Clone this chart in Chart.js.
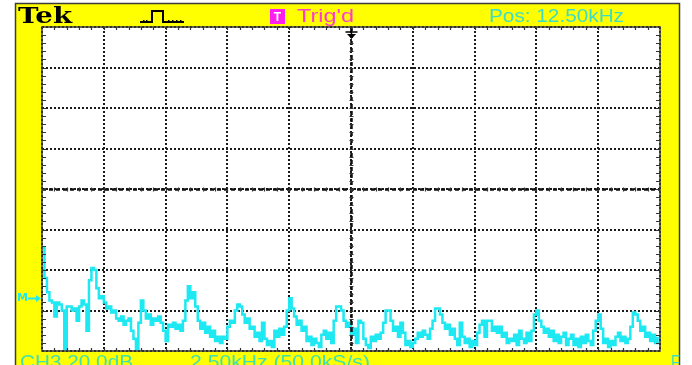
<!DOCTYPE html>
<html>
<head>
<meta charset="utf-8">
<script src="https://cdn.jsdelivr.net/npm/chart.js@4.4.1/dist/chart.umd.min.js"></script>
<style>
  html, body { margin: 0; padding: 0; background: #fff; }
  canvas { display: block; }
</style>
</head>
<body>
<canvas id="scope" width="692" height="365"></canvas>
<script>
// FFT span and graticule
const spanStartKHz = 0;
const spanEndKHz = 25;
const kHzPerDiv = 2.5;
const dbPerDiv = 20;
const verticalDivs = 8;
const binStepKHz = 0.1;

// Magnitude of each FFT bin, dB above the bottom graticule line
const magnitudeDb = [
  51, 36, 29, 25, 24, 17, 24, 23, 20, 1,
  22, 22, 20, 21, 15, 22, 25, 23, 10, 35,
  41, 40, 31, 26, 27, 24, 21, 22, 19, 20,
  16, 15, 17, 13, 15, 16, 10, 6, 1, 14,
  25, 20, 16, 18, 13, 16, 15, 17, 14, 10,
  5, 13, 12, 14, 11, 13, 10, 15, 25, 32,
  26, 29, 22, 15, 11, 14, 9, 12, 7, 10,
  5, 7, 4, 7, 6, 12, 15, 14, 20, 23,
  22, 18, 14, 16, 11, 12, 7, 9, 5, 14,
  6, 3, 5, 2, 10, 7, 11, 8, 12, 20,
  26, 21, 17, 13, 15, 10, 12, 5, 7, 3,
  6, 4, 2, 8, 10, 6, 9, 4, 15, 22,
  22, 20, 15, 12, 14, 8, 11, 4, 15, 14,
  6, 3, 1.5, 7, 5, 8, 6, 9, 14, 20,
  20, 15, 10, 12, 7, 14, 9, 3, 5, 2,
  4, 6, 9, 7, 10, 8, 6, 11, 15, 21,
  21, 18, 14, 11, 13, 8, 11, 6, 3, 14,
  7, 4, 6, 2, 5, 3, 9, 13, 15, 7,
  15, 15, 10, 12, 9, 12, 7, 9, 4, 6,
  5, 8, 3, 10, 6, 4, 9, 5, 10, 18,
  20, 15, 12, 9, 11, 7, 10, 5, 8, 4,
  7, 9, 3, 6, 8, 3, 6, 2, 7, 4,
  8, 5, 3, 10, 15, 18, 11, 4, 6, 2,
  5, 3, 7, 9, 5, 7, 4, 6, 12, 19,
  18, 15, 10, 12, 7, 9, 5, 8, 4, 7
];

// Reference level marker on the left edge
const markerLevelDb = 26;

// Readout texts
const brandText = ['Tek'];
const statusTexts = ["Trig'd", 'Pos: 12.50kHz'];
const bottomTexts = ['CH3 20.0dB', '2.50kHz (50.0kS/s)', 'F'];

const binFreqs = magnitudeDb.map((_, i) => +(spanStartKHz + i * binStepKHz).toFixed(2));
const points = magnitudeDb.map((v, i) => ({ x: binFreqs[i], y: v }));

const YELLOW = '#ffff00';
const TRACE = '#1ee8f2';

// Draw text squeezed or stretched horizontally to a given width
function fitText(ctx, text, x, baseline, width, font, color) {
  ctx.save();
  ctx.font = font;
  ctx.fillStyle = color;
  ctx.textBaseline = 'alphabetic';
  ctx.textAlign = 'left';
  const w = ctx.measureText(text).width;
  ctx.translate(x, baseline);
  ctx.scale(width / w, 1);
  ctx.fillText(text, 0, 0);
  ctx.restore();
}

const scopeScreen = {
  id: 'scopeScreen',
  beforeDraw(chart) {
    const { ctx, chartArea: a } = chart;
    ctx.save();
    ctx.fillStyle = '#fff';
    ctx.fillRect(0, 0, chart.width, chart.height);
    ctx.fillStyle = YELLOW;
    ctx.fillRect(15, 3, 665, 362);
    ctx.strokeStyle = '#3c3c3c';
    ctx.lineWidth = 1.5;
    ctx.beginPath();
    ctx.moveTo(15.5, 365); ctx.lineTo(15.5, 3.5); ctx.lineTo(679.5, 3.5); ctx.lineTo(679.5, 365);
    ctx.stroke();
    ctx.fillStyle = '#fff';
    ctx.fillRect(a.left, a.top, a.right - a.left, a.bottom - a.top);
    ctx.restore();
  },
  afterDraw(chart) {
    const { ctx, chartArea: a, scales: { x, y } } = chart;
    ctx.save();

    // Heavier dashed centre lines
    const cx = Math.round(x.getPixelForValue((spanStartKHz + spanEndKHz) / 2)) + 0.5;
    const cy = Math.round(y.getPixelForValue(dbPerDiv * verticalDivs / 2)) + 0.5;
    ctx.strokeStyle = '#111';
    ctx.lineWidth = 2.5;
    ctx.setLineDash([4, 3]);
    ctx.beginPath();
    ctx.moveTo(cx, a.top); ctx.lineTo(cx, a.bottom);
    ctx.moveTo(a.left, cy); ctx.lineTo(a.right, cy);
    ctx.stroke();
    ctx.setLineDash([]);

    // Graticule frame
    ctx.strokeStyle = '#3a3a3a';
    ctx.lineWidth = 1.5;
    ctx.strokeRect(a.left, a.top, a.right - a.left, a.bottom - a.top);

    // Minor ticks, five per division, on the frame and centre lines
    ctx.lineWidth = 1.2;
    ctx.strokeStyle = '#333';
    ctx.beginPath();
    const minorX = kHzPerDiv / 5;
    for (let k = 1; k < (spanEndKHz - spanStartKHz) / minorX; k++) {
      const px = Math.round(x.getPixelForValue(spanStartKHz + k * minorX)) + 0.5;
      ctx.moveTo(px, a.top); ctx.lineTo(px, a.top + 3);
      ctx.moveTo(px, a.bottom); ctx.lineTo(px, a.bottom - 3);
      ctx.moveTo(px, cy - 2); ctx.lineTo(px, cy + 2);
    }
    const minorY = dbPerDiv / 5;
    for (let k = 1; k < verticalDivs * 5; k++) {
      const py = Math.round(y.getPixelForValue(k * minorY)) + 0.5;
      ctx.moveTo(a.left, py); ctx.lineTo(a.left + 4, py);
      ctx.moveTo(a.right, py); ctx.lineTo(a.right - 4, py);
      ctx.moveTo(cx - 2, py); ctx.lineTo(cx + 2, py);
    }
    ctx.stroke();

    // Trigger position arrow
    ctx.fillStyle = '#000';
    ctx.strokeStyle = '#000';
    ctx.lineWidth = 1.5;
    ctx.beginPath();
    ctx.moveTo(cx - 6, a.top + 5); ctx.lineTo(cx + 6, a.top + 5);
    ctx.moveTo(cx, a.top + 2); ctx.lineTo(cx, a.top + 8);
    ctx.stroke();
    ctx.beginPath();
    ctx.moveTo(cx - 4.5, a.top + 7); ctx.lineTo(cx + 4.5, a.top + 7); ctx.lineTo(cx, a.top + 12);
    ctx.closePath();
    ctx.fill();

    // Reference marker "M" with arrow
    const my = Math.round(y.getPixelForValue(markerLevelDb)) + 0.5;
    ctx.fillStyle = TRACE;
    ctx.strokeStyle = TRACE;
    ctx.font = 'bold 11px "DejaVu Sans"';
    ctx.textBaseline = 'middle';
    ctx.fillText('M', 17, my);
    ctx.lineWidth = 2;
    ctx.beginPath();
    ctx.moveTo(28, my); ctx.lineTo(38, my);
    ctx.stroke();
    ctx.beginPath();
    ctx.moveTo(36, my - 3.5); ctx.lineTo(41, my); ctx.lineTo(36, my + 3.5);
    ctx.closePath();
    ctx.fill();

    // Top readouts
    fitText(ctx, brandText[0], 18, 23, 54, '900 23px "DejaVu Serif"', '#000');

    // Pulse (acquisition) icon
    ctx.strokeStyle = '#000';
    ctx.lineWidth = 2;
    ctx.beginPath();
    ctx.moveTo(140, 22); ctx.lineTo(152, 22); ctx.lineTo(152, 11);
    ctx.lineTo(163, 11); ctx.lineTo(163, 22); ctx.lineTo(184, 22);
    ctx.stroke();
    ctx.fillStyle = '#000';
    [143, 146, 168, 172, 176, 180].forEach(px => ctx.fillRect(px, 20, 1.5, 1.5));

    // Trigger status box
    ctx.fillStyle = '#ff1ef0';
    ctx.fillRect(270, 9, 15, 15);
    ctx.fillStyle = '#fff';
    ctx.font = 'bold 12px "Liberation Sans"';
    ctx.textAlign = 'center';
    ctx.textBaseline = 'alphabetic';
    ctx.fillText('T', 277.5, 21);
    ctx.textAlign = 'left';
    fitText(ctx, statusTexts[0], 297, 22, 57, '18px "Liberation Sans"', '#ff3ccf');
    fitText(ctx, statusTexts[1], 489, 22, 135, '18px "Liberation Sans"', '#3cdcc8');

    // Bottom readouts
    fitText(ctx, bottomTexts[0], 20, 368, 113, '18px "Liberation Sans"', '#3fe0b0');
    fitText(ctx, bottomTexts[1], 190, 368, 180, '18px "Liberation Sans"', '#3fe0b0');
    fitText(ctx, bottomTexts[2], 671, 368, 9, '18px "Liberation Sans"', '#3cdcc8');

    ctx.restore();
  }
};

new Chart(document.getElementById('scope'), {
  type: 'line',
  data: {
    datasets: [{
      data: points,
      borderColor: TRACE,
      borderWidth: 2.5,
      stepped: true,
      pointRadius: 0,
      fill: false
    }]
  },
  options: {
    responsive: false,
    animation: false,
    devicePixelRatio: 1,
    layout: { padding: { left: 42, right: 32, top: 27, bottom: 14 } },
    plugins: { legend: { display: false }, tooltip: { enabled: false } },
    scales: {
      x: {
        type: 'linear',
        min: spanStartKHz,
        max: spanEndKHz,
        ticks: { display: false, stepSize: kHzPerDiv },
        grid: { color: '#1a1a1a', lineWidth: 2, drawTicks: false },
        border: { display: false, dash: [2, 2] }
      },
      y: {
        min: 0,
        max: dbPerDiv * verticalDivs,
        ticks: { display: false, stepSize: dbPerDiv },
        grid: { color: '#1a1a1a', lineWidth: 2, drawTicks: false },
        border: { display: false, dash: [2, 2] }
      }
    }
  },
  plugins: [scopeScreen]
});
</script>
</body>
</html>
